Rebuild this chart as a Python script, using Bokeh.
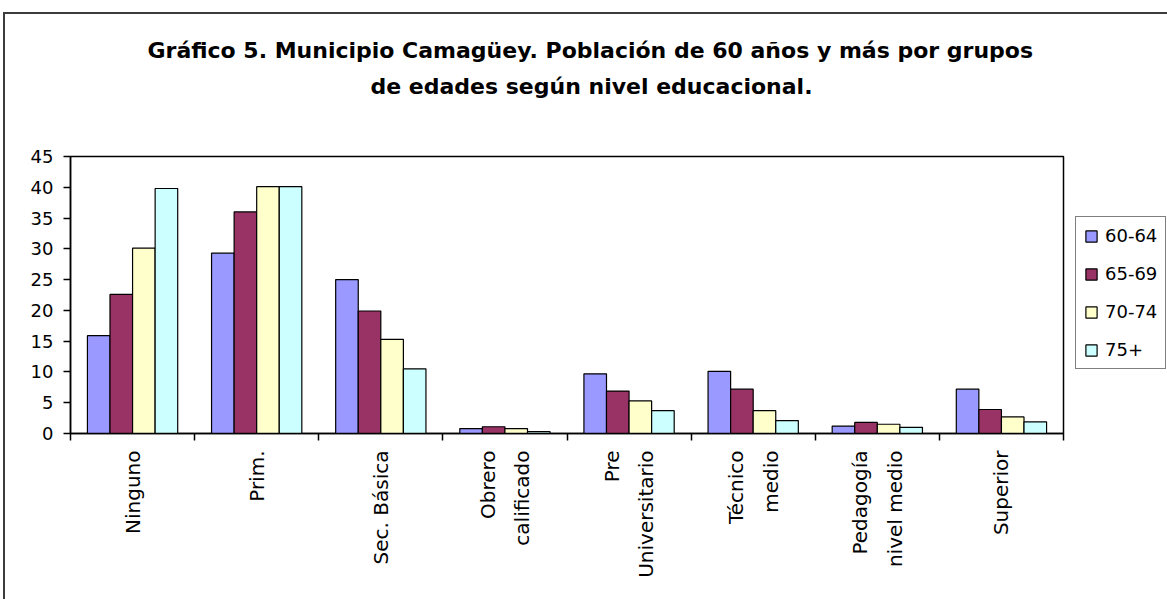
import math
from bokeh.plotting import figure
from bokeh.models import (ColumnDataSource, Range1d, FixedTicker, Legend, LegendItem, Title)
from bokeh.embed import file_html
from bokeh.resources import INLINE

categories = ["Ninguno", "Prim.", "Sec. Básica", "Obrero\ncalificado", "Pre\nUniversitario",
              "Técnico\nmedio", "Pedagogía\nnivel medio", "Superior"]
series_names = ["60-64", "65-69", "70-74", "75+"]
v_60_64 = [15.9, 29.3, 25.0, 0.8, 9.7, 10.1, 1.2, 7.2]
v_65_69 = [22.6, 36.0, 19.9, 1.1, 6.9, 7.2, 1.8, 3.9]
v_70_74 = [30.1, 40.1, 15.3, 0.8, 5.3, 3.7, 1.5, 2.7]
v_75p = [39.8, 40.1, 10.5, 0.3, 3.7, 2.1, 1.0, 1.9]
series_values = [v_60_64, v_65_69, v_70_74, v_75p]
colors = ["#9999FF", "#993366", "#FFFFCC", "#CCFFFF"]
y_ticks = list(range(0, 50, 5))
title_lines = ["Gráfico 5. Municipio Camagüey. Población de 60 años y más por grupos",
               "de edades según nivel educacional."]

FONT = "DejaVu Sans"

p = figure(frame_width=993, frame_height=277, output_backend="svg", toolbar_location=None,
           x_range=Range1d(0, len(categories)), y_range=Range1d(0, 45),
           min_border_left=65, min_border_right=104, min_border_top=142, min_border_bottom=166)
p.margin = (12, 0, 0, 3)
p.styles = {"border-top": "2px solid #3c3c3c", "border-left": "2px solid #3c3c3c"}
p.background_fill_color = "white"
p.border_fill_color = "white"
p.outline_line_color = "black"
p.outline_line_width = 1.5
p.xgrid.visible = False
p.ygrid.visible = False

n = len(series_names)
bar_w = 1.0 / 5.5
renderers = []
for j, (name, vals, col) in enumerate(zip(series_names, series_values, colors)):
    xs = [i + 0.5 + (j - (n - 1) / 2) * bar_w for i in range(len(categories))]
    src = ColumnDataSource(dict(x=xs, top=vals))
    r = p.vbar(x="x", top="top", width=bar_w, bottom=0, source=src,
               fill_color=col, line_color="black", line_width=1.2)
    renderers.append((name, r))

# y axis
p.yaxis.ticker = FixedTicker(ticks=y_ticks)
p.yaxis.major_tick_out = 7
p.yaxis.major_tick_in = 0
p.yaxis.minor_tick_line_color = None
p.yaxis.axis_line_color = "black"
p.yaxis.axis_line_width = 1.5
p.yaxis.major_tick_line_width = 1.5
p.yaxis.major_label_text_font = FONT
p.yaxis.major_label_text_font_size = "18px"
p.yaxis.major_label_text_color = "black"
p.yaxis.major_label_standoff = 10

# x axis: ticks at category boundaries, labels at centres
centers = [i + 0.5 for i in range(len(categories))]
p.xaxis.ticker = FixedTicker(ticks=centers, minor_ticks=list(range(len(categories) + 1)))
p.xaxis.major_label_overrides = {c: lab for c, lab in zip(centers, categories)}
p.xaxis.major_tick_line_color = None
p.xaxis.major_tick_out = 7
p.xaxis.major_tick_in = 0
p.xaxis.minor_tick_out = 7
p.xaxis.minor_tick_in = 0
p.xaxis.minor_tick_line_color = "black"
p.xaxis.minor_tick_line_width = 1.5
p.xaxis.axis_line_color = "black"
p.xaxis.axis_line_width = 1.5
p.xaxis.major_label_orientation = math.pi / 2
p.xaxis.major_label_text_font = FONT
p.xaxis.major_label_text_font_size = "20px"
p.xaxis.major_label_text_line_height = 1.45
p.xaxis.major_label_text_color = "black"
p.xaxis.major_label_standoff = 10

# title (two lines) with a blank spacer nearest the frame
spacer = Title(text=" ", text_font=FONT, text_font_size="22px", standoff=29)
t2 = Title(text=title_lines[1], align="left", offset=300, text_font=FONT,
           text_font_size="22px", text_font_style="bold", text_color="black", standoff=4)
t1 = Title(text=title_lines[0], align="left", offset=77, text_font=FONT,
           text_font_size="22px", text_font_style="bold", text_color="black", standoff=13)
p.add_layout(spacer, "above")
p.add_layout(t2, "above")
p.add_layout(t1, "above")

# legend
legend = Legend(items=[LegendItem(label=nm, renderers=[r]) for nm, r in renderers],
                location=(12, 64), orientation="vertical",
                label_text_font=FONT, label_text_font_size="18px", label_text_color="black",
                glyph_width=14, glyph_height=14, label_height=21, spacing=17,
                padding=8, margin=0, border_line_color="black", border_line_width=1.5,
                background_fill_color="white", background_fill_alpha=1.0,
                label_standoff=7)
p.add_layout(legend, "right")

open("out.html", "w").write(file_html(p, INLINE))
